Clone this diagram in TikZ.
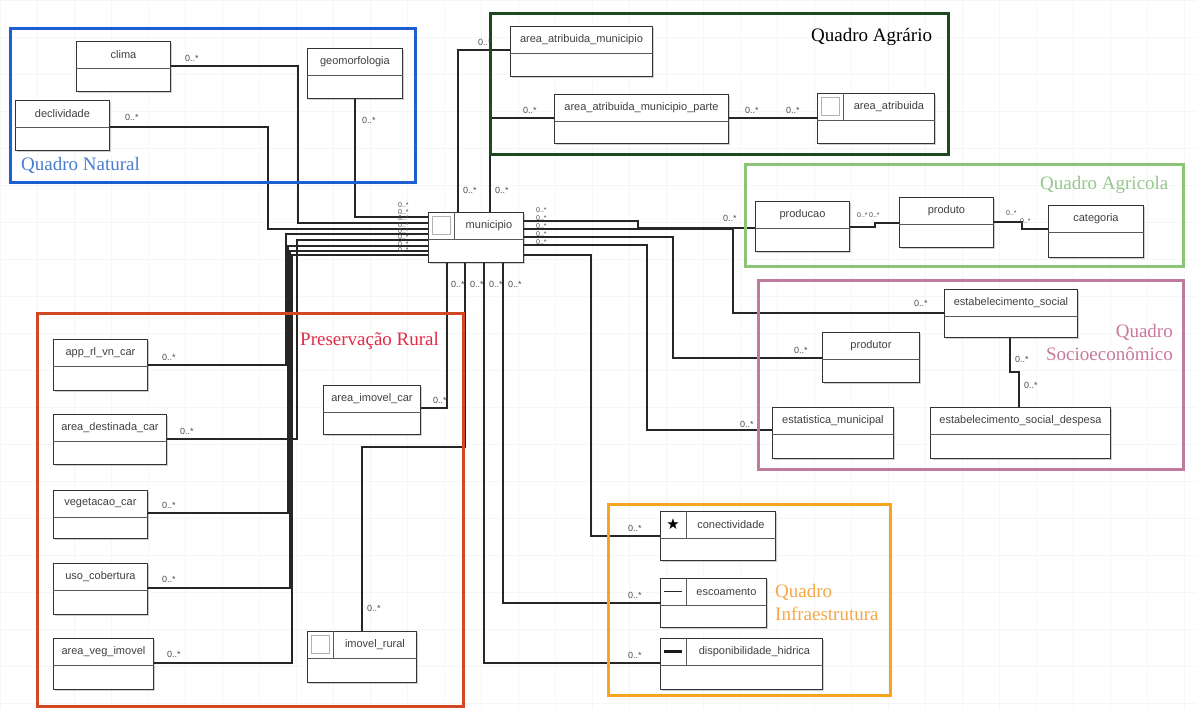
\documentclass[tikz,border=0pt]{standalone}
\usepackage{fontspec}
\setmainfont{Liberation Serif}
\setsansfont{Liberation Sans}
\newfontfamily\dejavu{DejaVu Sans}
\usetikzlibrary{calc,shadows}
\definecolor{natblue}{RGB}{28,95,208}
\definecolor{natlab}{RGB}{75,125,205}
\definecolor{agrgreen}{RGB}{32,72,30}
\definecolor{agricgreen}{RGB}{140,196,122}
\definecolor{agriclab}{RGB}{150,200,140}
\definecolor{sociopink}{RGB}{192,122,160}
\definecolor{sociolab}{RGB}{200,122,155}
\definecolor{presred}{RGB}{210,72,36}
\definecolor{preslab}{RGB}{228,42,70}
\definecolor{infraorange}{RGB}{247,165,32}
\definecolor{infralab}{RGB}{245,168,72}
\tikzset{
 ubox/.style={draw=black!80, line width=0.9pt, fill=white, inner sep=0pt,
   drop shadow={shadow xshift=1.5pt, shadow yshift=-1.5pt, opacity=0.3, fill=black!60}},
 udiv/.style={draw=black!65, line width=0.7pt},
 utext/.style={font=\sffamily\fontsize{11}{12}\selectfont, text=black!75, inner sep=0pt},
 conn/.style={draw=black!85, line width=1.1pt},
 mult/.style={font=\sffamily\fontsize{9}{10}\selectfont, text=black!70, inner sep=0pt, anchor=west},
 smult/.style={mult, font=\sffamily\fontsize{7}{8}\selectfont},
 frame/.style={line width=3pt},
 flabel/.style={font=\fontsize{19}{23}\selectfont, inner sep=0pt},
 iconsq/.style={draw=black!30, line width=0.8pt, minimum size=18pt, inner sep=0pt},
}
\newcommand\umlbox[6]{%
  \node[ubox, minimum width=#4pt, minimum height=#5pt, anchor=north west] (#1) at (#2,#3) {};
  \draw[udiv] ([yshift=-27pt]#1.north west) -- ([yshift=-27pt]#1.north east);
  \node[utext] (#1-t) at ([yshift=-13.5pt]#1.north) {#6};
}
\newcommand\umlibox[6]{%
  \node[ubox, minimum width=#4pt, minimum height=#5pt, anchor=north west] (#1) at (#2,#3) {};
  \draw[udiv] ([yshift=-27pt]#1.north west) -- ([yshift=-27pt]#1.north east);
  \draw[udiv] ([xshift=26pt]#1.north west) -- ([xshift=26pt,yshift=-27pt]#1.north west);
  \node[utext] (#1-t) at ($([xshift=26pt,yshift=-13.5pt]#1.north west)!.5!([yshift=-13.5pt]#1.north east)$) {#6};
}
\begin{document}
\begin{tikzpicture}[x=1pt,y=-1pt]
\useasboundingbox (0,0) rectangle (1196,709);
\fill[white] (0,0) rectangle (1196,709);
\draw[black!3.5, line width=0.5pt, step=37pt] (0,0) grid (1196,709);

% boxes
\umlbox{clima}{76}{41}{94}{50}{clima}
\umlbox{geomorfologia}{307}{48}{95}{50}{geomorfologia}
\umlbox{declividade}{15}{100}{94}{50}{declividade}
\umlbox{aam}{510}{26}{142}{50}{area\_atribuida\_municipio}
\umlbox{aamp}{554}{94}{174}{49}{area\_atribuida\_municipio\_parte}
\umlibox{aa}{817}{93}{117}{50}{area\_atribuida}
\umlibox{municipio}{428}{212}{95}{50}{municipio}
\umlbox{producao}{755}{201}{94}{50}{producao}
\umlbox{produto}{899}{197}{94}{50}{produto}
\umlbox{categoria}{1048}{205}{95}{52}{categoria}
\umlbox{estsocial}{944}{289}{133}{48}{estabelecimento\_social}
\umlbox{produtor}{822}{332}{97}{50}{produtor}
\umlbox{estatistica}{772}{407}{121}{51}{estatistica\_municipal}
\umlbox{despesa}{930}{407}{180}{51}{estabelecimento\_social\_despesa}
\umlbox{apprl}{53}{339}{94}{51}{app\_rl\_vn\_car}
\umlbox{areadest}{53}{414}{113}{50}{area\_destinada\_car}
\umlbox{vegetacao}{53}{490}{94}{48}{vegetacao\_car}
\umlbox{uso}{53}{563}{94}{51}{uso\_cobertura}
\umlbox{areaveg}{53}{638}{100}{51}{area\_veg\_imovel}
\umlbox{areaimovel}{323}{385}{97}{49}{area\_imovel\_car}
\umlibox{imovel}{307}{631}{109}{51}{imovel\_rural}
\umlibox{conect}{660}{511}{115}{49}{conectividade}
\umlibox{escoa}{660}{578}{106}{49}{escoamento}
\umlibox{dispo}{660}{638}{162}{51}{disponibilidade\_hidrica}

% icons
\node[iconsq] (aa-i) at ([xshift=13pt,yshift=-13.5pt]aa.north west) {};
\node[iconsq] (municipio-i) at ([xshift=13pt,yshift=-13.5pt]municipio.north west) {};
\node[iconsq] (imovel-i) at ([xshift=13pt,yshift=-13.5pt]imovel.north west) {};
\node[inner sep=0pt, font=\dejavu\fontsize{15}{15}\selectfont] (conect-i) at ([xshift=13pt,yshift=-13.5pt]conect.north west) {★};
\node[fill=black!85, inner sep=0pt, minimum width=18pt, minimum height=1.6pt] (escoa-i) at ([xshift=13pt,yshift=-13.5pt]escoa.north west) {};
\node[fill=black!90, inner sep=0pt, minimum width=18pt, minimum height=2.8pt] (dispo-i) at ([xshift=13pt,yshift=-13.5pt]dispo.north west) {};

% connectors: natural
\draw[conn] (geomorfologia.south) -- (geomorfologia.south |- 0,217) -- (municipio.west |- 0,217);
\draw[conn] (clima.east |- 0,66) -| (298,223) -- (municipio.west |- 0,223);
\draw[conn] (declividade.east |- 0,127) -| (268,229) -- (municipio.west |- 0,229);
% preservacao
\draw[conn] (apprl.east |- 0,365) -| (286,234) -- (municipio.west |- 0,234);
\draw[conn] (areadest.east |- 0,439) -| (297,240) -- (municipio.west |- 0,240);
\draw[conn] (vegetacao.east |- 0,513) -| (288,246) -- (municipio.west |- 0,246);
\draw[conn] (uso.east |- 0,588) -| (290,251) -- (municipio.west |- 0,251);
\draw[conn] (areaveg.east |- 0,663) -| (292,255) -- (municipio.west |- 0,255);
\draw[conn] (municipio.south -| 447,0) |- (areaimovel.east |- 0,408);
\draw[conn] (municipio.south -| 465,0) -- (465,447) -| (imovel.north -| 362,0);
% agrario
\draw[conn] (municipio.north -| 458,0) |- (aam.west |- 0,50);
\draw[conn] (municipio.north -| 490,0) |- (aamp.west |- 0,118);
\draw[conn] (aamp.east |- 0,118) -- (aa.west |- 0,118);
% right side
\draw[conn] (municipio.east |- 0,221) -- (638,221) -- (638,228) -- (producao.west |- 0,228);
\draw[conn] (municipio.east |- 0,229) -| (733,313) -- (estsocial.west |- 0,313);
\draw[conn] (municipio.east |- 0,237) -| (673,358) -- (produtor.west |- 0,358);
\draw[conn] (municipio.east |- 0,245) -| (647,430) -- (estatistica.west |- 0,430);
\draw[conn] (municipio.east |- 0,255) -| (591,536) -- (conect.west |- 0,536);
\draw[conn] (municipio.south -| 484,0) |- (dispo.west |- 0,663);
\draw[conn] (municipio.south -| 503,0) |- (escoa.west |- 0,603);
% agricola
\draw[conn] (producao.east |- 0,227) -- (875,227) -- (875,223) -- (produto.west |- 0,223);
\draw[conn] (produto.east |- 0,222) -- (1022,222) -- (1022,229) -- (categoria.west |- 0,229);
% socio
\draw[conn] (estsocial.south -| 1010,0) -- (1010,372) -- (1019,372) -- (despesa.north -| 1019,0);

% frames
\draw[frame, natblue] (10,29) rectangle (415,182);
\draw[frame, agrgreen] (490,14) rectangle (948,154);
\draw[frame, agricgreen] (745,164) rectangle (1183,266);
\draw[frame, sociopink] (758,280) rectangle (1183,469);
\draw[frame, presred] (37,313) rectangle (463,706);
\draw[frame, infraorange] (608,504) rectangle (890,695);

% frame labels
\node[flabel, text=natlab, anchor=west] (lnat) at (21,165) {Quadro Natural};
\node[flabel, text=black, anchor=west] (lagr) at (811,37) {Quadro Agrário};
\node[flabel, text=agriclab, anchor=west] (lagric) at (1040,185) {Quadro Agricola};
\node[flabel, text=preslab, anchor=west] (lpres) at (300,341) {Preservação Rural};
\node[flabel, text=sociolab, anchor=east, align=right] (lsocio) at (1173,342) {Quadro\\Socioeconômico};
\node[flabel, text=infralab, anchor=west, align=left] (linfra) at (775,602) {Quadro\\Infraestrutura};

% multiplicities
\node[mult] (m1) at (185,58) {0..*};
\node[mult] (m2) at (125,117) {0..*};
\node[mult] (m3) at (362,120) {0..*};
\foreach \yy [count=\i] in {205.5,211.9,218.3,224.7,231.1,237.5,243.9,250.3}
  \node[smult] (ml\i) at (398,\yy) {0..*};
\node[mult] (mt1) at (463,190) {0..*};
\node[mult] (mt2) at (495,190) {0..*};
\node[mult] (m4) at (478,42) {0..*};
\node[mult] (m5) at (523,110) {0..*};
\node[mult] (m6) at (745,110) {0..*};
\node[mult] (m7) at (786,110) {0..*};
\foreach \yy [count=\i] in {210,218,226,234,242}
  \node[smult] (mr\i) at (536,\yy) {0..*};
\node[mult] (mb1) at (451,284) {0..*};
\node[mult] (mb2) at (470,284) {0..*};
\node[mult] (mb3) at (489,284) {0..*};
\node[mult] (mb4) at (508,284) {0..*};
\node[mult] (m8) at (723,218) {0..*};
\node[smult] (m9) at (857,215) {0..*};
\node[smult] (m10) at (869,215) {0..*};
\node[smult] (m11) at (1006,213) {0..*};
\node[smult] (m12) at (1020,221) {0..*};
\node[mult] (m13) at (914,303) {0..*};
\node[mult] (m14) at (794,350) {0..*};
\node[mult] (m15) at (740,424) {0..*};
\node[mult] (m16) at (1015,359) {0..*};
\node[mult] (m17) at (1024,385) {0..*};
\node[mult] (m18) at (162,357) {0..*};
\node[mult] (m19) at (180,431) {0..*};
\node[mult] (m20) at (433,400) {0..*};
\node[mult] (m21) at (162,505) {0..*};
\node[mult] (m22) at (162,579) {0..*};
\node[mult] (m23) at (167,654) {0..*};
\node[mult] (m24) at (367,608) {0..*};
\node[mult] (m25) at (628,528) {0..*};
\node[mult] (m26) at (628,595) {0..*};
\node[mult] (m27) at (628,655) {0..*};
\end{tikzpicture}
\end{document}
